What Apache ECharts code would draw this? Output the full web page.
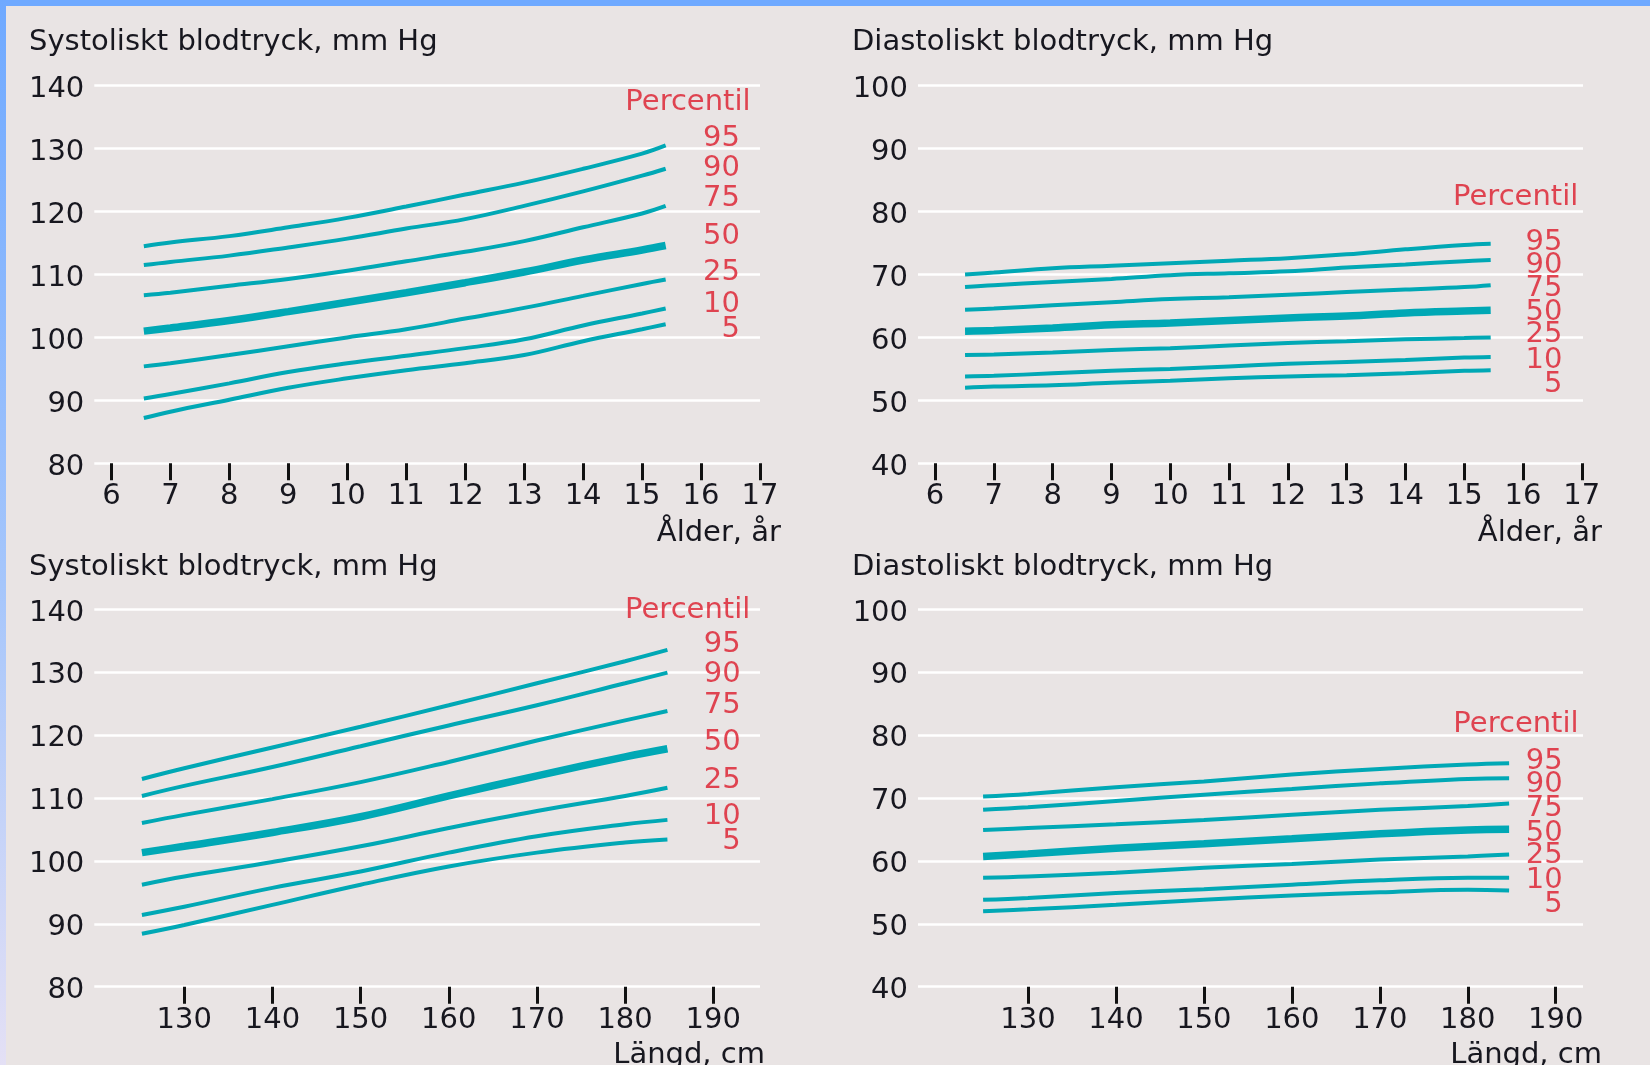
<!DOCTYPE html>
<html>
<head>
<meta charset="utf-8">
<script src="https://cdn.jsdelivr.net/npm/echarts@6/dist/echarts.min.js"></script>
<style>
html,body{margin:0;padding:0;background:#e9e4e4;}
#wrap{position:relative;width:1650px;height:1065px;overflow:hidden;background:#e9e4e4;}
#topbar{position:absolute;left:0;top:0;width:1650px;height:6px;background:#6fa9ff;}
#leftbar{position:absolute;left:0;top:0;width:6px;height:1065px;background:linear-gradient(#6fa9ff,#a6c6fb 55%,#e4e0f5);}
#chart{position:absolute;left:0;top:0;width:1650px;height:1065px;}
</style>
</head>
<body>
<div id="wrap"><div id="chart"></div><div id="topbar"></div><div id="leftbar"></div></div>
<script>
// ---------- data ----------
const percentiles = ['95','90','75','50','25','10','5'];

// Systolic by age (years)
const sysAgeX = [6.55, 7, 8, 9, 10, 11, 12, 13, 14, 15, 15.4];
const sysAge95 = [114.5,115.1,116.1,117.5,119.0,120.8,122.7,124.6,126.8,129.2,130.5];
const sysAge90 = [111.5,112.0,113.0,114.3,115.7,117.3,118.8,120.9,123.2,125.7,126.8];
const sysAge75 = [106.7,107.1,108.2,109.3,110.6,112.1,113.6,115.3,117.5,119.7,120.9];
const sysAge50 = [101.0,101.5,102.7,104.1,105.6,107.1,108.7,110.4,112.3,113.9,114.6];
const sysAge25 = [95.4,95.9,97.2,98.6,100.0,101.3,103.0,104.7,106.6,108.5,109.2];
const sysAge10 = [90.3,91.0,92.7,94.5,95.9,97.1,98.3,99.7,101.9,103.8,104.6];
const sysAge5  = [87.2,88.2,90.1,92.0,93.5,94.8,95.9,97.2,99.4,101.3,102.1];

// Diastolic by age (years)
const diaAgeX = [6.51, 7, 8, 9, 10, 11, 12, 13, 14, 15, 15.45];
const diaAge95 = [70.0,70.3,71.0,71.4,71.8,72.2,72.6,73.2,74.0,74.7,74.9];
const diaAge90 = [68.0,68.3,68.8,69.3,69.9,70.2,70.5,71.1,71.6,72.1,72.3];
const diaAge75 = [64.4,64.6,65.1,65.6,66.1,66.4,66.8,67.2,67.6,68.0,68.3];
const diaAge50 = [61.0,61.1,61.5,62.0,62.3,62.7,63.1,63.4,63.9,64.2,64.3];
const diaAge25 = [57.2,57.3,57.6,58.0,58.3,58.7,59.1,59.4,59.7,59.9,60.0];
const diaAge10 = [53.8,53.9,54.3,54.7,55.0,55.4,55.8,56.1,56.4,56.8,56.9];
const diaAge5  = [52.0,52.2,52.4,52.8,53.1,53.5,53.8,54.0,54.3,54.7,54.8];

// Systolic by height (cm)
const sysHtX = [125.2, 130, 140, 150, 160, 170, 180, 184.8];
const sysHt95 = [113.0,114.7,118.0,121.3,124.7,128.2,131.7,133.5];
const sysHt90 = [110.3,111.9,114.9,118.2,121.5,124.7,128.2,129.9];
const sysHt75 = [106.0,107.3,109.8,112.5,115.7,119.1,122.3,123.8];
const sysHt50 = [101.3,102.3,104.5,107.0,110.3,113.5,116.5,117.8];
const sysHt25 = [96.2,97.5,99.8,102.3,105.2,107.9,110.3,111.6];
const sysHt10 = [91.4,92.7,95.7,98.3,101.3,103.9,105.8,106.5];
const sysHt5  = [88.4,89.8,93.0,96.2,99.1,101.3,102.9,103.4];

// Diastolic by height (cm)
const diaHtX = [124.9, 130, 140, 150, 160, 170, 180, 184.7];
const diaHt95 = [70.2,70.6,71.7,72.6,73.7,74.6,75.3,75.5];
const diaHt90 = [68.1,68.5,69.5,70.5,71.4,72.3,73.0,73.1];
const diaHt75 = [64.9,65.2,65.8,66.5,67.3,68.1,68.7,69.1];
const diaHt50 = [60.7,61.1,62.0,62.7,63.5,64.3,64.9,65.0];
const diaHt25 = [57.3,57.5,58.1,58.9,59.5,60.2,60.7,61.0];
const diaHt10 = [53.8,54.1,54.9,55.5,56.2,56.9,57.3,57.3];
const diaHt5  = [52.0,52.3,53.0,53.8,54.5,55.0,55.4,55.3];

// Tick labels
const ageTicks = [6,7,8,9,10,11,12,13,14,15,16,17];
const heightTicks = [130,140,150,160,170,180,190];

// Percentile label anchor positions (data units)
const labelX = [16.84, 16.94, 194.2, 192.6];          // "Percentil" right edge
const numX   = [16.66, 16.67, 193.1, 190.8];          // numbers right edge
const labelYPercentil = [137.7, 82.7, 140.1, 82.1];
const labelYSysAge = [132.0,127.2,122.4,116.5,110.7,105.7,101.7];
const labelYDiaAge = [75.5,71.8,68.1,64.4,60.8,56.8,52.9];
const labelYSysHt  = [134.8,130.0,125.1,119.2,113.2,107.5,103.5];
const labelYDiaHt  = [76.2,72.5,68.7,64.8,61.2,57.3,53.5];

const titles = ['Systoliskt blodtryck, mm Hg','Diastoliskt blodtryck, mm Hg','Systoliskt blodtryck, mm Hg','Diastoliskt blodtryck, mm Hg'];
const xNames = ['Ålder, år','Ålder, år','Längd, cm','Längd, cm'];

// ---------- chart ----------
const FONT = 'DejaVu Sans';
const FS = 29;
const TXT = '#17171f';
const RED = '#dc1a2b';
const TEAL = '#00a8b5';

const panels = [
  {x: sysAgeX, ys: [sysAge95,sysAge90,sysAge75,sysAge50,sysAge25,sysAge10,sysAge5], labY: labelYSysAge, ymin: 80, ymax: 140, xmin: 5.71, xmax: 17, ticks: ageTicks,
   grid: {left: 94.3, top: 85.7, width: 665.7, height: 377.6}},
  {x: diaAgeX, ys: [diaAge95,diaAge90,diaAge75,diaAge50,diaAge25,diaAge10,diaAge5], labY: labelYDiaAge, ymin: 40, ymax: 100, xmin: 5.71, xmax: 17.02, ticks: ageTicks,
   grid: {left: 918, top: 85.7, width: 665, height: 377.6}},
  {x: sysHtX, ys: [sysHt95,sysHt90,sysHt75,sysHt50,sysHt25,sysHt10,sysHt5], labY: labelYSysHt, ymin: 80, ymax: 140, xmin: 119.8, xmax: 195.3, ticks: heightTicks,
   grid: {left: 94.3, top: 609, width: 665.7, height: 377.7}},
  {x: diaHtX, ys: [diaHt95,diaHt90,diaHt75,diaHt50,diaHt25,diaHt10,diaHt5], labY: labelYDiaHt, ymin: 40, ymax: 100, xmin: 117.5, xmax: 193.1, ticks: heightTicks,
   grid: {left: 918, top: 609, width: 665, height: 377.7}}
];

const grid = [], xAxis = [], yAxis = [], series = [];
panels.forEach((p, i) => {
  grid.push(Object.assign({containLabel: false}, p.grid));
  xAxis.push({
    type: 'value', gridIndex: i, min: p.xmin, max: p.xmax,
    axisLine: {show: false},
    splitLine: {show: false},
    axisTick: {show: true, inside: false, length: 17, customValues: p.ticks, lineStyle: {color: '#111', width: 3}},
    axisLabel: {show: true, customValues: p.ticks, margin: 19, fontFamily: FONT, fontSize: FS, color: TXT, hideOverlap: false}
  });
  yAxis.push({
    type: 'value', gridIndex: i, min: p.ymin, max: p.ymax, interval: 10,
    axisLine: {show: false}, axisTick: {show: false},
    splitLine: {show: true, lineStyle: {color: '#ffffff', width: 2.5}},
    axisLabel: {margin: 10, fontFamily: FONT, fontSize: FS, color: TXT, verticalAlign: 'top', lineHeight: 8}
  });
  p.ys.forEach((arr, k) => {
    series.push({
      type: 'line', xAxisIndex: i, yAxisIndex: i, name: percentiles[k],
      data: p.x.map((xv, j) => [xv, arr[j]]),
      smooth: 0.4, symbol: 'none', silent: true,
      lineStyle: {color: TEAL, width: percentiles[k] === '50' ? 7.5 : 4, cap: 'butt'},
      z: 3
    });
  });
  const labData = [[labelX[i], labelYPercentil[i], 'Percentil']].concat(
    p.labY.map((v, k) => [numX[i], v, percentiles[k]]));
  series.push({
    type: 'scatter', xAxisIndex: i, yAxisIndex: i, symbolSize: 0, clip: false, silent: true,
    data: labData,
    label: {show: true, position: 'inside', align: 'right', verticalAlign: 'middle', offset: [0, 2.5],
      fontFamily: FONT, fontSize: FS, color: RED, formatter: q => q.value[2]},
    z: 4
  });
});

const titlePos = [[29, 42], [852, 42], [29, 567], [852, 567]];
const namePos = [[781, 533], [1602, 533], [765, 1055], [1602, 1055]];
const graphic = [];
titles.forEach((t, i) => {
  graphic.push({type: 'text', x: titlePos[i][0], y: titlePos[i][1], style: {text: t, fontFamily: FONT, fontSize: FS, fill: TXT, textAlign: 'left', textVerticalAlign: 'middle'}});
  graphic.push({type: 'text', x: namePos[i][0], y: namePos[i][1], style: {text: xNames[i], fontFamily: FONT, fontSize: FS, fill: TXT, textAlign: 'right', textVerticalAlign: 'middle'}});
});

const chart = echarts.init(document.getElementById('chart'), null, {renderer: 'canvas'});
chart.setOption({
  backgroundColor: '#e9e4e4',
  animation: false,
  grid, xAxis, yAxis, series, graphic
});
</script>
</body>
</html>
